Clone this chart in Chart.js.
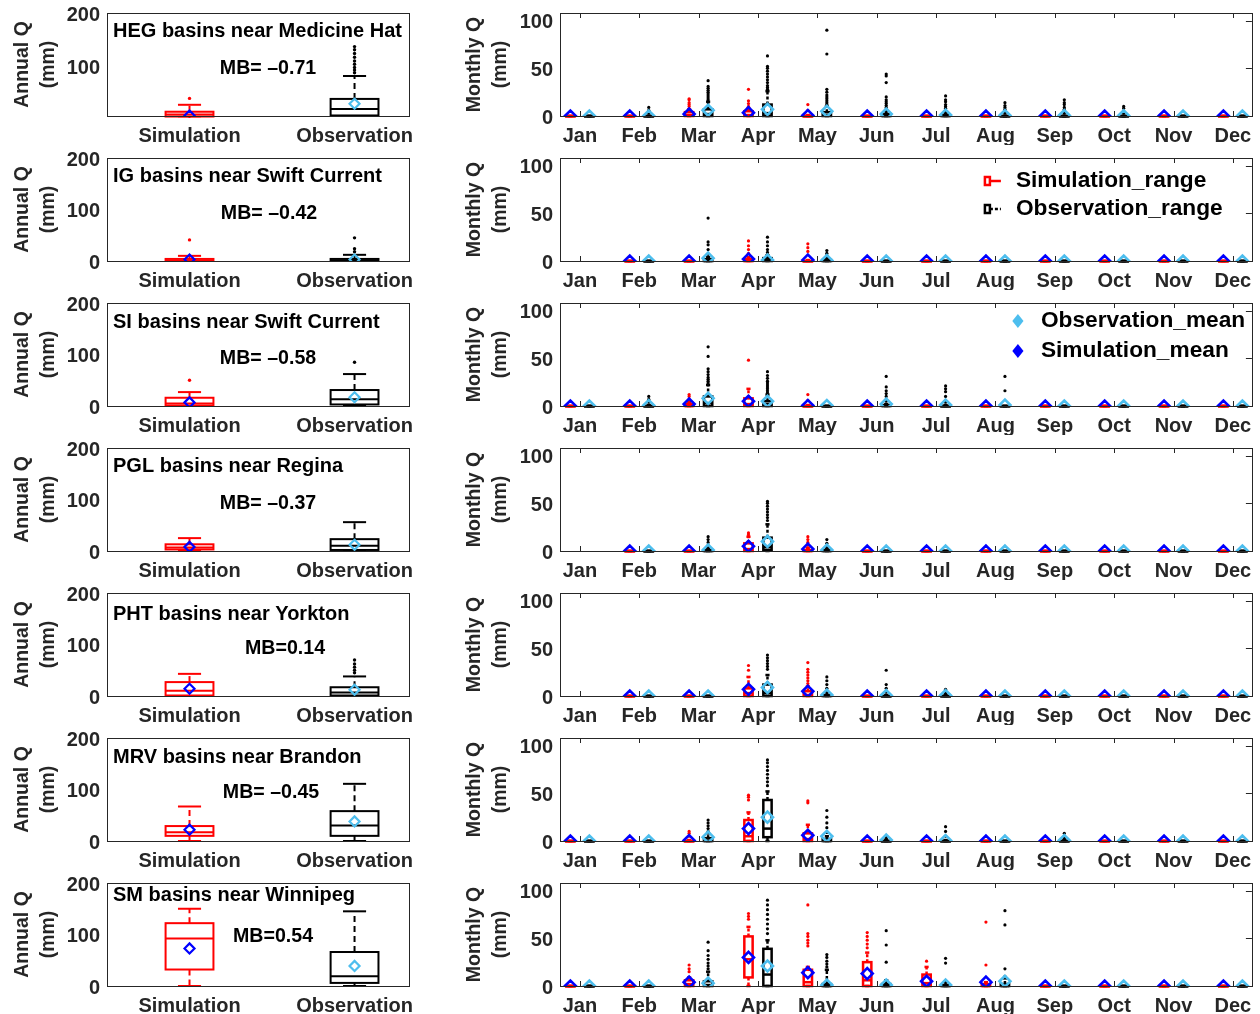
<!DOCTYPE html>
<html>
<head>
<meta charset="utf-8">
<script src="https://cdn.jsdelivr.net/npm/chart.js@4.4.0/dist/chart.umd.min.js"></script>
<style>
  html, body { margin: 0; padding: 0; background: #fff; overflow: hidden; }
  #wrap { position: relative; width: 1260px; height: 1014px; }
</style>
</head>
<body>
<div id="wrap"></div>
<script>
// ---- data ----
const months = ['Jan', 'Feb', 'Mar', 'Apr', 'May', 'Jun', 'Jul', 'Aug', 'Sep', 'Oct', 'Nov', 'Dec'];
const groups = ['Simulation', 'Observation'];
const basinTitles = [
  'HEG basins near Medicine Hat',
  'IG basins near Swift Current',
  'SI basins near Swift Current',
  'PGL basins near Regina',
  'PHT basins near Yorkton',
  'MRV basins near Brandon',
  'SM basins near Winnipeg'
];
const mbTexts = ['MB= \u20130.71', 'MB= \u20130.42', 'MB= \u20130.58', 'MB= \u20130.37', 'MB=0.14', 'MB= \u20130.45', 'MB=0.54'];
const annualTicks = [0, 100, 200];
const monthlyTicks = [0, 50, 100];
const annualYMin = [7, 0, 0, 0, 0, 0, 0];

// box stats: [min, q1, median, q3, max]
const annualSimStats = [
  [2, 6, 10, 15, 28],
  [0, 0, 1, 4, 10],
  [0, 1, 5, 16, 27],
  [0, 3, 7, 13, 25],
  [0, 1, 10, 27, 43],
  [0, 10, 17, 29, 67],
  [0, 32, 92, 122, 150]
];
const annualSimOutliers = [[40], [41], [50], [], [], [], []];
const annualSimMeans = [8, 3, 7, 8, 14, 22, 73];

const annualObsStats = [
  [7, 8, 20, 39, 82],
  [0, 0, 1, 4, 12],
  [0, 3, 13, 31, 62],
  [0, 2, 10, 23, 56],
  [0, 1, 7, 17, 38],
  [0, 10, 30, 58, 111],
  [0, 6, 19, 66, 145]
];
const annualObsOutliers = [[88, 93, 98, 104, 110, 117, 124, 131, 137], [18, 24, 45], [85], [], [45, 50, 56, 62, 70], [], []];
const annualObsMeans = [30, 3, 17, 12, 12, 38, 39];

const Z = [0, 0, 0, 0, 0];
const monthlySimStats = [
  [Z, Z, [0, 0, 1, 4, 7], [0, 0, 1, 5, 8], [0, 0, 0, 0, 1], Z, Z, Z, Z, Z, Z, Z],
  [null, Z, Z, [0, 0, 0, 2, 4], [0, 0, 0, 0, 1], Z, Z, Z, Z, Z, Z, Z],
  [Z, Z, [0, 0, 0, 2, 4], [0, 0, 2, 8, 18], [0, 0, 0, 0, 1], Z, Z, Z, Z, Z, Z, Z],
  [null, Z, Z, [0, 0, 2, 8, 15], [0, 0, 0, 1, 3], Z, Z, Z, Z, Z, Z, Z],
  [null, Z, Z, [0, 0, 3, 8, 20], [0, 0, 1, 5, 10], Z, Z, Z, Z, Z, Z, Z],
  [Z, Z, [0, 0, 0, 0, 1], [0, 0, 5, 22, 30], [0, 0, 2, 8, 17], Z, Z, Z, Z, Z, Z, Z],
  [Z, Z, [0, 0, 2, 6, 9], [0, 9, 28, 52, 62], [0, 0, 4, 17, 20], [0, 0, 6, 25, 35], [0, 0, 3, 12, 20], [0, 0, 0, 2, 4], Z, Z, Z, Z]
];
const monthlySimOutliers = [
  [[], [], [10, 12, 14, 17, 18], [10, 13, 16, 28], [6, 12], [], [], [], [], [], [], []],
  [[], [], [], [8, 12, 16, 21], [10, 14, 18], [], [], [], [], [], [], []],
  [[], [], [7, 10, 12], [48], [6, 12], [], [], [], [], [], [], []],
  [[], [], [], [17, 19], [6, 9, 12, 15], [], [], [], [], [], [], []],
  [[], [], [], [27, 32], [13, 16, 19, 22, 25, 28, 35], [], [], [], [], [], [], []],
  [[], [], [5, 8, 10], [43, 46, 48], [40, 42], [], [], [], [], [], [], []],
  [[], [], [15, 18, 22], [70, 73, 76], [42, 45, 48, 52, 55, 85], [40, 44, 48, 52, 56], [26], [22, 67], [], [], [], []]
];
const monthlySimMeans = [
  [0, 0, 2, 3.5, 0.5, 0, 0, 0, 0, 0, 0, 0],
  [null, 0, 0, 2, 1, 0, 0, 0, 0, 0, 0, 0],
  [0, 0, 2, 5, 0.5, 0, 0, 0, 0, 0, 0, 0],
  [null, 0, 0, 5, 2, 0, 0, 0, 0, 0, 0, 0],
  [null, 0, 0, 7, 5, 0, 0, 0, 0, 0, 0, 0],
  [0, 0, 0.5, 13, 6, 0, 0, 0, 0, 0, 0, 0],
  [0, 0, 4, 30, 14, 13, 5, 4, 0, 0, 0, 0]
];

const monthlyObsStats = [
  [Z, Z, [0, 0, 2, 7, 15], [0, 0, 3, 12, 26], [0, 0, 1, 4, 10], [0, 0, 0, 2, 5], [0, 0, 0, 1, 2], Z, Z, Z, Z, Z],
  [null, Z, [0, 0, 0, 2, 4], [0, 0, 1, 3, 6], [0, 0, 0, 1, 2], Z, Z, Z, Z, Z, Z, Z],
  [Z, [0, 0, 0, 0, 1], [0, 0, 3, 10, 22], [0, 0, 2, 5, 12], Z, [0, 0, 0, 1, 2], [0, 0, 0, 0, 1], Z, Z, Z, Z, Z],
  [null, Z, [0, 0, 0, 1, 3], [0, 1, 4, 14, 28], [0, 0, 0, 1, 3], Z, Z, Z, Z, Z, Z, Z],
  [null, Z, Z, [0, 0, 3, 12, 22], [0, 0, 0, 1, 4], [0, 0, 0, 0, 1], [0, 0, 0, 0, 1], Z, Z, Z, Z, Z],
  [Z, Z, [0, 0, 0, 3, 8], [0, 4, 13, 43, 52], [0, 0, 0, 2, 5], [0, 0, 0, 0, 1], [0, 0, 0, 0, 1], Z, [0, 0, 0, 0, 1], Z, Z, Z],
  [Z, Z, [0, 0, 1, 5, 15], [0, 0, 12, 39, 48], [0, 0, 0, 2, 17], [0, 0, 0, 2, 6], [0, 0, 0, 1, 4], [0, 0, 0, 2, 8], Z, Z, Z, Z]
];
const monthlyObsOutliers = [
  [[], [3, 6, 9], [17, 19, 21, 23, 25, 27, 29, 31, 37], [28, 30, 32, 35, 38, 41, 44, 47, 50, 52, 63], [12, 14, 16, 18, 20, 22, 25, 28, 65, 90], [7, 9, 11, 13, 15, 17, 20, 35, 42, 44], [4, 6, 8, 10, 12, 15, 17, 21], [3, 5, 7, 9, 11, 14], [3, 5, 7, 9, 12, 14, 17], [3, 5, 8, 10], [], []],
  [[], [], [7, 12, 17, 20, 45], [9, 12, 16, 20, 25], [4, 6, 8, 11], [], [], [], [], [], [], []],
  [[], [4, 7, 10], [24, 26, 28, 30, 33, 36, 39, 52, 62], [14, 16, 18, 20, 22, 24, 26, 29, 32, 36], [], [5, 10, 13, 16, 20, 31], [4, 10, 15, 18, 21], [16, 31], [], [], [], []],
  [[], [], [6, 9, 12, 15], [32, 35, 38, 41, 44, 47, 50, 52], [5, 8, 12], [], [], [], [], [], [], []],
  [[], [], [], [28, 31, 34, 37, 40, 43], [8, 12, 16, 20], [4, 8, 12, 27], [3, 5, 7], [], [], [], [], []],
  [[], [], [10, 13, 16, 19, 22], [58, 62, 66, 70, 74, 78, 82, 85], [9, 14, 19, 25, 32], [3, 5], [5, 10, 15], [], [3, 5, 8], [], [], []],
  [[], [], [18, 21, 24, 28, 32, 37, 46], [55, 60, 65, 70, 75, 80, 85, 90], [20, 23, 26, 30, 33], [25, 43, 58], [24, 29], [10, 18, 64, 79], [], [], [], []]
];
const monthlyObsMeans = [
  [0, 0, 6, 7, 5, 2, 1, 0.5, 0.5, 0.3, 0, 0],
  [null, 0, 3, 1, 0.5, 0, 0, 0, 0, 0, 0, 0],
  [0, 0.5, 8, 5, 0.5, 2, 1, 1, 0, 0, 0, 0],
  [null, 0, 1, 10, 1, 0, 0, 0, 0, 0, 0, 0],
  [null, 0, 0, 9, 1, 0.5, 0.5, 0, 0, 0, 0, 0],
  [0, 0, 4, 25, 5, 1, 0.5, 0, 0.5, 0, 0, 0],
  [0, 0, 3, 21, 1, 1, 1, 5, 0, 0, 0, 0]
];

// ---- layout / style ----
const FONT = "'Liberation Sans', Arial, Helvetica, sans-serif";
const RED = '#ff0000', BLACK = '#000000', BLUE = '#0000ff', LIGHTBLUE = '#4dbeee';
const AXIS = '#262626';
const ROW_H = 145;
const titleDy = [18, 18, 19, 18, 21, 19, 12];
const mbX = [268, 269, 268, 268, 285, 271, 273];
const mbDy = [56, 56, 56, 56, 56, 55, 54];

const wrap = document.getElementById('wrap');
function addCanvas(left, top, w, h) {
  const c = document.createElement('canvas');
  c.width = w; c.height = h;
  c.style.cssText = 'position:absolute;left:' + left + 'px;top:' + top + 'px;width:' + w + 'px;height:' + h + 'px';
  wrap.appendChild(c);
  return c;
}

// draws box-and-whisker marks through the chart's own scales
function boxPlugin(boxes, boxW, capW, lw, dash) {
  return {
    id: 'boxes',
    beforeDatasetsDraw(chart) {
      const { ctx, chartArea: a } = chart;
      const x = chart.scales.x, y = chart.scales.y;
      ctx.save();
      ctx.beginPath();
      ctx.rect(a.left, a.top - 2, a.right - a.left, a.bottom - a.top + 4);
      ctx.clip();
      const seg = (x1, y1, x2, y2) => { ctx.beginPath(); ctx.moveTo(x1, y1); ctx.lineTo(x2, y2); ctx.stroke(); };
      boxes.forEach(b => {
        if (!b.s) return;
        const [mn, q1, md, q3, mx] = b.s;
        const xc = x.getPixelForValue(b.x);
        const xl = x.getPixelForValue(b.x - boxW / 2), xr = x.getPixelForValue(b.x + boxW / 2);
        const cl = x.getPixelForValue(b.x - capW / 2), cr = x.getPixelForValue(b.x + capW / 2);
        ctx.strokeStyle = b.color;
        ctx.lineWidth = lw;
        ctx.setLineDash(dash);
        if (mx > q3) seg(xc, y.getPixelForValue(q3), xc, y.getPixelForValue(mx));
        if (mn < q1) seg(xc, y.getPixelForValue(q1), xc, y.getPixelForValue(mn));
        ctx.setLineDash([]);
        seg(cl, y.getPixelForValue(mx), cr, y.getPixelForValue(mx));
        seg(cl, y.getPixelForValue(mn), cr, y.getPixelForValue(mn));
        const yt = y.getPixelForValue(q3), yb = y.getPixelForValue(q1);
        ctx.strokeRect(xl, yt, xr - xl, Math.max(yb - yt, 0.5));
        seg(xl, y.getPixelForValue(md), xr, y.getPixelForValue(md));
      });
      ctx.restore();
    }
  };
}

function diamond(ctx, cx, cy, r, color) {
  ctx.beginPath();
  ctx.moveTo(cx, cy - r); ctx.lineTo(cx + r * 0.8, cy); ctx.lineTo(cx, cy + r); ctx.lineTo(cx - r * 0.8, cy);
  ctx.closePath();
  ctx.fillStyle = color; ctx.fill();
}

function decorPlugin(fn) {
  return { id: 'decor', afterDraw(chart) { fn(chart, chart.ctx, chart.chartArea); } };
}

function meanSet(points, color, r, bw) {
  return {
    data: points, showLine: false, order: 0,
    pointStyle: 'rectRot', pointRadius: r, pointBorderWidth: bw,
    pointBorderColor: color, pointBackgroundColor: 'rgba(0,0,0,0)'
  };
}
function dotSet(points, color, r) {
  return {
    data: points, showLine: false, order: 1,
    pointStyle: 'circle', pointRadius: r, pointBorderWidth: 0,
    pointBackgroundColor: color, pointBorderColor: color
  };
}

function noPad(s) {
  s.paddingTop = 0; s.paddingBottom = 0; s.paddingLeft = 0; s.paddingRight = 0;
}

function panelOptions(p) {
  const tickFont = { family: FONT, size: 20, weight: 'bold' };
  return {
    responsive: false,
    animation: false,
    events: [],
    layout: { padding: { top: 13, right: p.padRight, left: 0, bottom: 0 } },
    plugins: { legend: { display: false }, tooltip: { enabled: false } },
    scales: {
      x: {
        type: 'linear', min: p.xMin, max: p.xMax,
        grid: { display: false, drawTicks: false }, border: { display: false },
        afterBuildTicks: s => { s.ticks = p.xLabels.map((_, i) => ({ value: i + 1 })); },
        ticks: { autoSkip: false, maxRotation: 0, minRotation: 0, padding: 8, color: AXIS, font: tickFont,
          callback: (v, i) => p.xLabels[i] },
        afterFit: s => { s.height = 29; noPad(s); }
      },
      y: {
        min: p.yMin, max: p.yMax,
        grid: { display: false, drawTicks: false }, border: { display: false },
        afterBuildTicks: s => { s.ticks = p.yTicks.filter(v => v >= p.yMin && v <= p.yMax).map(v => ({ value: v })); },
        ticks: { padding: 7, labelOffset: 2, color: AXIS, font: tickFont },
        title: { display: true, text: p.yTitle, color: AXIS, padding: { top: p.titlePad, bottom: 0 },
          font: { family: FONT, size: 19.5, weight: 'bold', lineHeight: 1.35 } },
        afterFit: s => { s.width = p.yWidth; noPad(s); }
      }
    }
  };
}

function frame(ctx, a) {
  ctx.save();
  ctx.strokeStyle = AXIS; ctx.lineWidth = 1;
  ctx.strokeRect(Math.round(a.left) + 0.5, Math.round(a.top) + 0.5, Math.round(a.right - a.left), Math.round(a.bottom - a.top));
  ctx.restore();
}

for (let r = 0; r < 7; r++) {
  const top = r * ROW_H;

  // ---- annual panel ----
  const aBoxes = [
    { x: 1, s: annualSimStats[r], color: RED },
    { x: 2, s: annualObsStats[r], color: BLACK }
  ];
  const aCanvas = addCanvas(0, top, 455, ROW_H);
  new Chart(aCanvas.getContext('2d'), {
    type: 'scatter',
    data: {
      datasets: [
        meanSet([{ x: 1, y: annualSimMeans[r] }], BLUE, 5, 2.2),
        meanSet([{ x: 2, y: annualObsMeans[r] }], LIGHTBLUE, 5, 2.2),
        dotSet(annualSimOutliers[r].map(v => ({ x: 1, y: v })), RED, 1.7),
        dotSet(annualObsOutliers[r].map(v => ({ x: 2, y: v })), BLACK, 1.7)
      ]
    },
    options: panelOptions({
      xMin: 0.5, xMax: 2.33, xLabels: groups,
      yMin: annualYMin[r], yMax: 200, yTicks: annualTicks,
      yTitle: ['Annual Q', '(mm)'], titlePad: 9, yWidth: 107, padRight: 46
    }),
    plugins: [
      boxPlugin(aBoxes, 0.29, 0.14, 2, [6, 4]),
      decorPlugin((chart, ctx, a) => {
        frame(ctx, a);
        ctx.save();
        ctx.fillStyle = BLACK;
        ctx.textBaseline = 'middle';
        ctx.textAlign = 'left';
        ctx.font = 'bold 20px ' + FONT;
        ctx.fillText(basinTitles[r], a.left + 6, a.top + titleDy[r]);
        ctx.textAlign = 'center';
        ctx.font = 'bold 19.6px ' + FONT;
        ctx.fillText(mbTexts[r], mbX[r], a.top + mbDy[r]);
        ctx.restore();
      })
    ]
  });

  // ---- monthly panel ----
  const mBoxes = [];
  const simMeanPts = [], obsMeanPts = [], simDots = [], obsDots = [];
  months.forEach((m, i) => {
    const xs = i + 1 - 0.16, xo = i + 1 + 0.16;
    mBoxes.push({ x: xs, s: monthlySimStats[r][i], color: RED });
    mBoxes.push({ x: xo, s: monthlyObsStats[r][i], color: BLACK });
    if (monthlySimMeans[r][i] !== null) simMeanPts.push({ x: xs, y: monthlySimMeans[r][i] });
    if (monthlyObsMeans[r][i] !== null) obsMeanPts.push({ x: xo, y: monthlyObsMeans[r][i] });
    monthlySimOutliers[r][i].forEach(v => simDots.push({ x: xs, y: v }));
    monthlyObsOutliers[r][i].forEach(v => obsDots.push({ x: xo, y: v }));
  });
  const mCanvas = addCanvas(455, top, 805, ROW_H);
  new Chart(mCanvas.getContext('2d'), {
    type: 'scatter',
    data: {
      datasets: [
        meanSet(simMeanPts, BLUE, 5.5, 2.6),
        meanSet(obsMeanPts, LIGHTBLUE, 5.5, 2.6),
        dotSet(simDots, RED, 1.6),
        dotSet(obsDots, BLACK, 1.6)
      ]
    },
    options: panelOptions({
      xMin: 0.665, xMax: 12.32, xLabels: months,
      yMin: 0, yMax: 108, yTicks: monthlyTicks,
      yTitle: ['Monthly Q', '(mm)'], titlePad: 6, yWidth: 105, padRight: 6
    }),
    plugins: [
      boxPlugin(mBoxes, 0.14, 0.07, 2.5, [3, 2]),
      decorPlugin((chart, ctx, a) => {
        frame(ctx, a);
        const x = chart.scales.x, y = chart.scales.y;
        ctx.save();
        ctx.strokeStyle = AXIS; ctx.lineWidth = 1;
        months.forEach((m, i) => {
          const px = Math.round(x.getPixelForValue(i + 1)) + 0.5;
          ctx.beginPath(); ctx.moveTo(px, a.top); ctx.lineTo(px, a.top + 5); ctx.stroke();
          ctx.beginPath(); ctx.moveTo(px, a.bottom); ctx.lineTo(px, a.bottom - 5); ctx.stroke();
        });
        [50, 100].forEach(v => {
          const py = Math.round(y.getPixelForValue(v)) + 0.5;
          ctx.beginPath(); ctx.moveTo(a.right, py); ctx.lineTo(a.right - 6, py); ctx.stroke();
        });
        ctx.font = 'bold 22.7px ' + FONT;
        ctx.fillStyle = BLACK;
        ctx.textBaseline = 'middle';
        ctx.textAlign = 'left';
        if (r === 1) {
          const ix = a.right - 267, tx = a.right - 236;
          [[a.top + 23, RED, 'Simulation_range', []], [a.top + 51, BLACK, 'Observation_range', [3, 2]]].forEach(([ly, col, label, dsh]) => {
            ctx.strokeStyle = col; ctx.lineWidth = 2.5;
            ctx.strokeRect(ix, ly - 4, 5, 8);
            ctx.setLineDash(dsh);
            ctx.beginPath(); ctx.moveTo(ix + 5, ly); ctx.lineTo(ix + 16, ly); ctx.stroke();
            ctx.setLineDash([]);
            ctx.fillText(label, tx, ly);
          });
        }
        if (r === 2) {
          const ix = a.right - 234, tx = a.right - 211;
          diamond(ctx, ix, a.top + 18, 7, LIGHTBLUE);
          diamond(ctx, ix, a.top + 48, 7, BLUE);
          ctx.fillStyle = BLACK;
          ctx.fillText('Observation_mean', tx, a.top + 18);
          ctx.fillText('Simulation_mean', tx, a.top + 48);
        }
        ctx.restore();
      })
    ]
  });
}
</script>
</body>
</html>
